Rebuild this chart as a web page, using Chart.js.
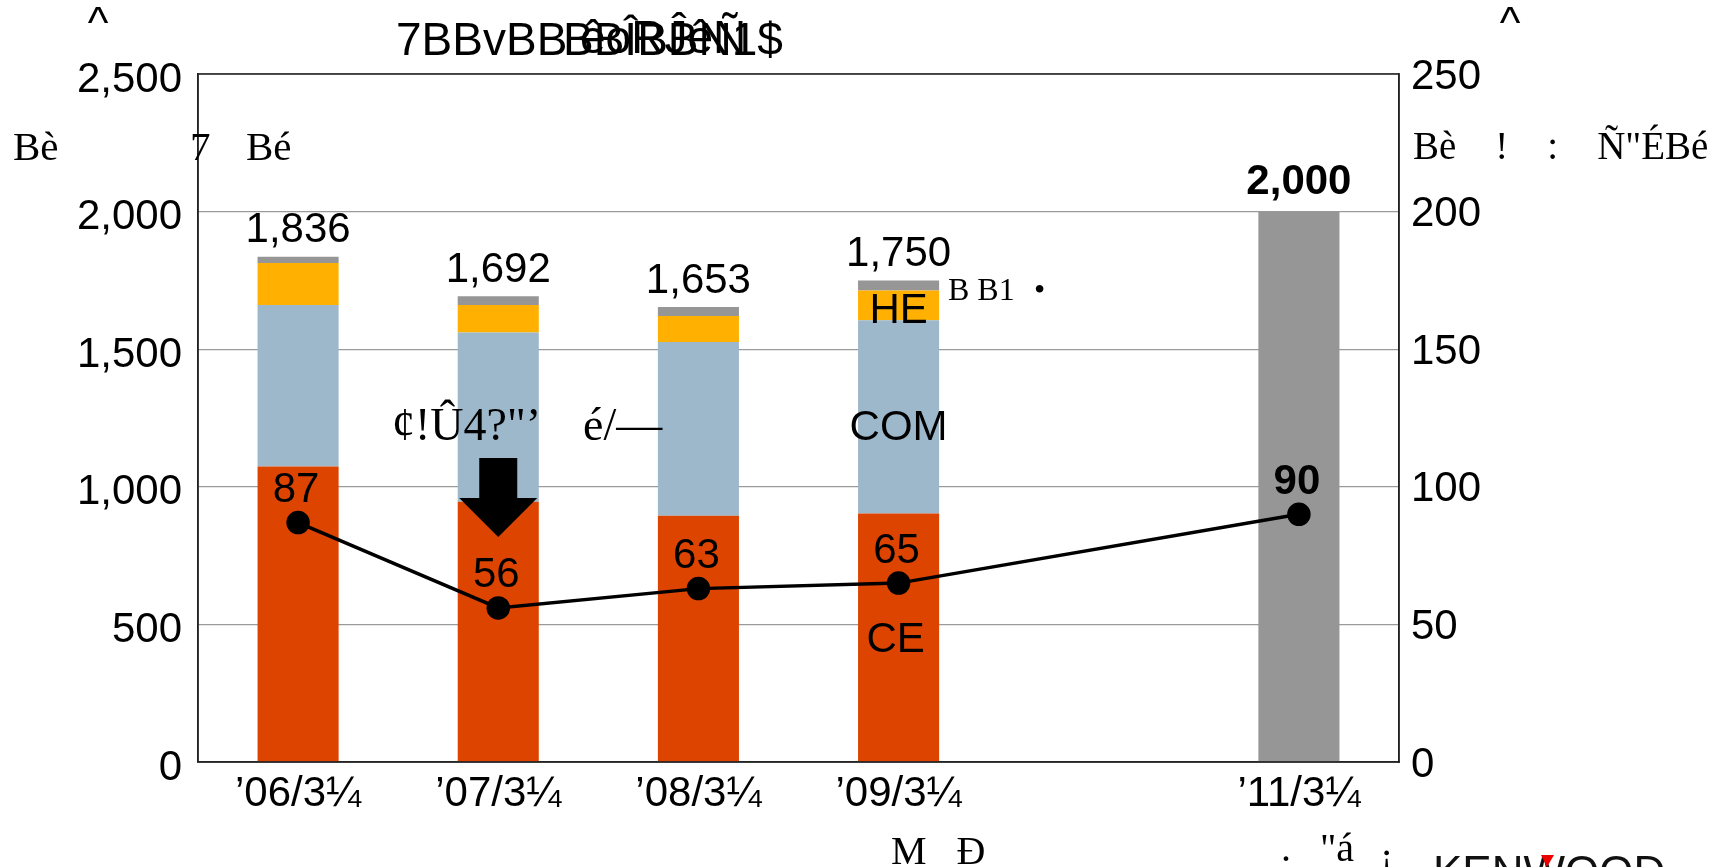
<!DOCTYPE html>
<html>
<head>
<meta charset="utf-8">
<script src="https://cdn.jsdelivr.net/npm/chart.js@4/dist/chart.umd.min.js"></script>
<style>
  html, body { margin: 0; padding: 0; background: #fff; }
  #wrap { width: 1725px; height: 867px; }
</style>
</head>
<body>
<div id="wrap"><canvas id="chart" width="1725" height="867"></canvas></div>
<script>
const periods = ['\u201906/3\u00bc', '\u201907/3\u00bc', '\u201908/3\u00bc', '\u201909/3\u00bc', '', '\u201911/3\u00bc'];
const ceSales = [1074, 946, 895, 903, null, null];
const comSales = [587, 615, 631, 702, null, null];
const heSales = [152, 100, 95, 108, null, null];
const otherSales = [23, 31, 32, 37, null, 2000];
const profitLine = [87, 56, 63, 65, null, 90];
const leftTicks = [0, 500, 1000, 1500, 2000, 2500];
const rightTicks = [0, 50, 100, 150, 200, 250];

const SANS = '"Liberation Sans", Arial, sans-serif';
const SERIF = '"Liberation Serif", "Times New Roman", serif';

const fmt = n => n.toLocaleString('en-US');

const totals = periods.map((_, i) => {
  const parts = [ceSales[i], comSales[i], heSales[i], otherSales[i]];
  if (parts.every(v => v == null)) return null;
  return parts.reduce((s, v) => s + (v || 0), 0);
});

const overlay = {
  id: 'overlay',
  afterDraw(chart) {
    const ctx = chart.ctx;
    const x = chart.scales.x, y = chart.scales.y, y2 = chart.scales.y2;
    const area = chart.chartArea;
    ctx.save();

    // plot frame
    ctx.strokeStyle = '#222';
    ctx.lineWidth = 1.5;
    ctx.strokeRect(area.left, area.top, area.right - area.left, area.bottom - area.top);

    // totals above bars
    ctx.fillStyle = '#000';
    ctx.textAlign = 'center';
    ctx.textBaseline = 'middle';
    totals.forEach((t, i) => {
      if (t == null) return;
      const last = i === totals.length - 1;
      ctx.font = (last ? 'bold ' : '') + '42px ' + SANS;
      ctx.fillText(fmt(t), x.getPixelForValue(i), y.getPixelForValue(t) - (last ? 29 : 26));
    });

    // line values
    profitLine.forEach((v, i) => {
      if (v == null) return;
      const last = i === profitLine.length - 1;
      ctx.font = (last ? 'bold ' : '') + '42px ' + SANS;
      ctx.fillText(String(v), x.getPixelForValue(i) - 2, y2.getPixelForValue(v) - 32);
    });

    // segment labels on the '09 bar
    const cx = x.getPixelForValue(3);
    ctx.font = '42px ' + SANS;
    ctx.fillText('HE', cx, y.getPixelForValue(ceSales[3] + comSales[3] + heSales[3] / 2) + 6);
    ctx.fillText('COM', cx, y.getPixelForValue(ceSales[3] + comSales[3] * 0.44));
    ctx.fillText('CE', cx - 3, y.getPixelForValue(ceSales[3] * 0.49));

    // down arrow on the '07 bar
    const ax = x.getPixelForValue(1);
    ctx.fillStyle = '#000';
    ctx.beginPath();
    ctx.moveTo(ax - 19, 458);
    ctx.lineTo(ax + 19, 458);
    ctx.lineTo(ax + 19, 498);
    ctx.lineTo(ax + 39, 498);
    ctx.lineTo(ax, 537);
    ctx.lineTo(ax - 39, 498);
    ctx.lineTo(ax - 19, 498);
    ctx.closePath();
    ctx.fill();

    // serif notes
    ctx.textAlign = 'left';
    ctx.font = '46px ' + SERIF;
    ctx.fillText('\u00a2!\u00db4?"\u2019', 392, 428);
    ctx.fillText('\u00e9/\u2014', 583, 428);
    ctx.font = '32px ' + SERIF;
    ctx.fillText('B B1', 948, 292);
    ctx.fillText('\u2022', 1034, 292);

    // axis titles (garbled as in source)
    ctx.font = '41px ' + SERIF;
    ctx.fillText('B\u00e8', 13, 149);
    ctx.fillText('7', 190, 149);
    ctx.fillText('B\u00e9', 246, 149);
    ctx.font = '39px ' + SERIF;
    ctx.fillText('B\u00e8    !    :    \u00d1"\u00c9B\u00e9', 1413, 149);

    ctx.textBaseline = 'alphabetic';
    ctx.font = '44px ' + SANS;
    ctx.textAlign = 'center';
    ctx.fillText('^', 98, 38);
    ctx.fillText('^', 1510, 38);

    // title (overlapping glyphs)
    ctx.textBaseline = 'middle';
    ctx.textAlign = 'left';
    ctx.font = '46px ' + SANS;
    ctx.fillText('7BBvBB', 396, 42);
    ctx.fillText('BB\u00ceBBN1$', 563, 42, 224);
    ctx.fillText('\u00eaoR\u0134\u00ea\u00d1', 580, 40, 190);

    // footer
    ctx.textBaseline = 'alphabetic';
    ctx.font = '40px ' + SERIF;
    ctx.fillText('M   \u0110', 891, 864);
    ctx.fillText('.', 1281, 861);
    ctx.fillText('"\u00e1', 1320, 861);
    ctx.fillText('\u00a1', 1380, 870);
    ctx.font = '44px ' + SANS;
    ctx.fillStyle = '#111';
    ctx.fillText('KENWOOD', 1433, 887);
    ctx.fillStyle = '#e00';
    ctx.beginPath();
    ctx.moveTo(1541, 855);
    ctx.lineTo(1554, 855);
    ctx.lineTo(1547, 867);
    ctx.closePath();
    ctx.fill();

    ctx.restore();
  }
};

const tickFont = { family: SANS, size: 42 };

new Chart(document.getElementById('chart'), {
  type: 'bar',
  data: {
    labels: periods,
    datasets: [
      { type: 'line', label: 'profit', data: profitLine, yAxisID: 'y2', order: 0,
        borderColor: '#000', borderWidth: 3.5, backgroundColor: '#000',
        pointRadius: 10, pointHoverRadius: 10, pointBackgroundColor: '#000',
        spanGaps: true, tension: 0 },
      { label: 'CE', data: ceSales, backgroundColor: '#DD4400', order: 1 },
      { label: 'COM', data: comSales, backgroundColor: '#9DB7CB', order: 1 },
      { label: 'HE', data: heSales, backgroundColor: '#FFB000', order: 1 },
      { label: 'other', data: otherSales, backgroundColor: '#969696', order: 1 }
    ]
  },
  options: {
    responsive: false,
    animation: false,
    devicePixelRatio: 1,
    barPercentage: 0.405,
    categoryPercentage: 1.0,
    layout: { padding: { top: 74, left: 0, right: 0, bottom: 0 } },
    plugins: { legend: { display: false }, tooltip: { enabled: false }, title: { display: false } },
    scales: {
      x: {
        stacked: true,
        grid: { display: false, drawTicks: false },
        border: { display: true, color: '#333', width: 1.5 },
        ticks: { font: tickFont, color: '#000', padding: 7, maxRotation: 0, autoSkip: false },
        afterFit: s => { s.height = 105; }
      },
      y: {
        stacked: true,
        position: 'left',
        min: 0, max: 2500,
        afterBuildTicks: s => { s.ticks = leftTicks.map(v => ({ value: v })); },
        grid: { color: '#9a9a9a', lineWidth: 1.2, drawTicks: false },
        border: { display: true, color: '#222', width: 1.5 },
        ticks: { font: tickFont, color: '#000', padding: 16, labelOffset: 6, callback: v => fmt(v) },
        afterFit: s => { s.width = 198; }
      },
      y2: {
        position: 'right',
        min: 0, max: 250,
        afterBuildTicks: s => { s.ticks = rightTicks.map(v => ({ value: v })); },
        grid: { display: false, drawTicks: false },
        border: { display: true, color: '#222', width: 1.5 },
        ticks: { font: tickFont, color: '#000', padding: 12, labelOffset: 3 },
        afterFit: s => { s.width = 326; }
      }
    }
  },
  plugins: [overlay]
});
</script>
</body>
</html>
